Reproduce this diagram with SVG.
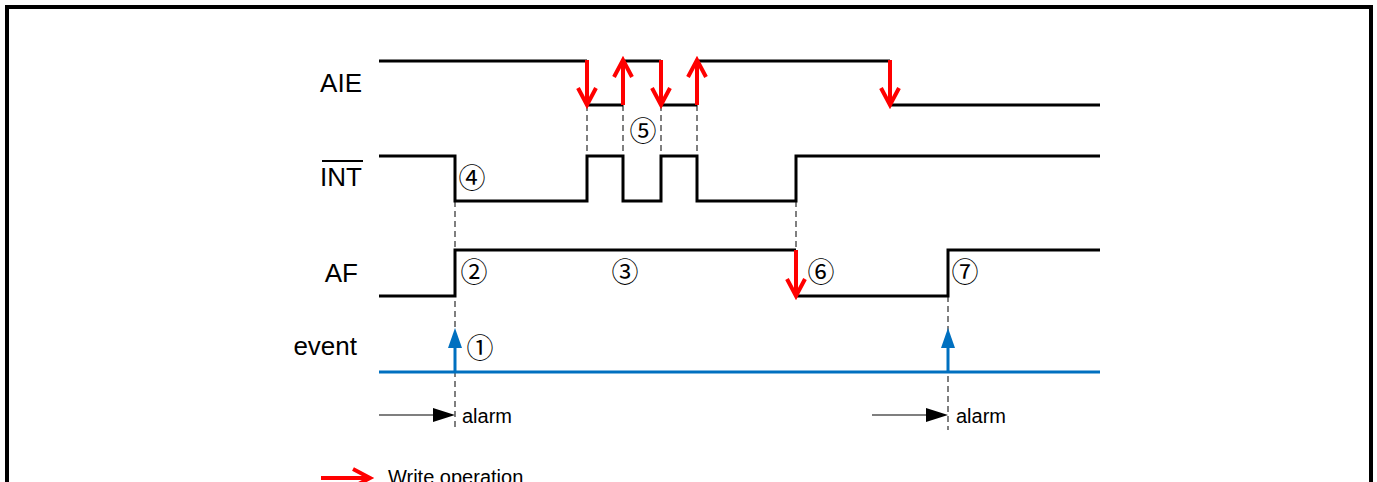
<svg xmlns="http://www.w3.org/2000/svg" width="1377" height="482" viewBox="0 0 1377 482">
<style>
.lbl{font-family:"Liberation Sans",Arial,sans-serif;font-size:26px;fill:#000}
.sm{font-family:"Liberation Sans",Arial,sans-serif;font-size:20px;fill:#000}
.num{font-family:"Noto Sans CJK JP","DejaVu Sans",sans-serif;font-size:27px;fill:#000;text-anchor:middle}
.sig{fill:none;stroke:#000;stroke-width:3}
.dash{fill:none;stroke:#555;stroke-width:1.5;stroke-dasharray:6 4}
.wr{fill:none;stroke:#f00;stroke-width:4}
.ev{fill:none;stroke:#0070C0;stroke-width:3}
</style>
<rect x="7" y="7" width="1364" height="520" fill="none" stroke="#000" stroke-width="4"/>
<g id="guides">
<path class="dash" d="M455 201V430M587 105V156M623 105V156M661 105V156M697 105V156M796 201V250M948 296V430"/>
</g>
<g id="label-AIE"><text class="lbl" x="362" y="92" text-anchor="end">AIE</text></g>
<g id="label-INT"><text class="lbl" x="362" y="186" text-anchor="end">INT</text><line x1="322" y1="161" x2="363" y2="161" stroke="#000" stroke-width="2"/></g>
<g id="label-AF"><text class="lbl" x="358" y="282" text-anchor="end">AF</text></g>
<g id="label-event"><text class="lbl" x="357" y="355" text-anchor="end">event</text></g>
<g id="signal-AIE"><path class="sig" d="M379 61H587M587 105H623M623 61H661M661 105H697M697 61H890M890 105H1100"/></g>
<g id="signal-INT"><path class="sig" d="M379 156H455V201H587V156H623V201H661V156H697V201H796V156H1100"/></g>
<g id="signal-AF"><path class="sig" d="M379 296H455V250H796M796 296H948V250H1100"/></g>
<g id="signal-event"><path class="ev" d="M379 372H1100"/></g>
<g id="connectors">
<path class="wr" d="M587 60V105M578 88L587 105L596 88"/>
<path class="wr" d="M623 105V60M614 77L623 60L632 77"/>
<path class="wr" d="M661 60V105M652 88L661 105L670 88"/>
<path class="wr" d="M697 105V60M688 77L697 60L706 77"/>
<path class="wr" d="M890 60V105M881 88L890 105L899 88"/>
<path class="wr" d="M796 250V296M787 279L796 296L805 279"/>
<path class="ev" d="M455 372V346"/><polygon points="455,328 448,348 462,348" fill="#0070C0"/>
<path class="ev" d="M948 372V346"/><polygon points="948,328 941,348 955,348" fill="#0070C0"/>
<path d="M379 415H436" stroke="#555" stroke-width="1.5"/><polygon points="455,415 433,408 433,422" fill="#000"/>
<path d="M872 415H929" stroke="#555" stroke-width="1.5"/><polygon points="948,415 926,408 926,422" fill="#000"/>
</g>
<g id="alarm1"><text class="sm" x="462" y="423">alarm</text></g>
<g id="alarm2"><text class="sm" x="956" y="423">alarm</text></g>
<g id="n1"><text class="num" x="480" y="358">①</text></g>
<g id="n2"><text class="num" x="474" y="282">②</text></g>
<g id="n3"><text class="num" x="625" y="282">③</text></g>
<g id="n4"><text class="num" x="472" y="188">④</text></g>
<g id="n5"><text class="num" x="643" y="141">⑤</text></g>
<g id="n6"><text class="num" x="821" y="282">⑥</text></g>
<g id="n7"><text class="num" x="965" y="282">⑦</text></g>
<g id="legend">
<path class="wr" d="M321 478H370M353 469L370 478L353 487"/>
<text class="sm" x="388" y="484">Write operation</text>
</g>
</svg>
